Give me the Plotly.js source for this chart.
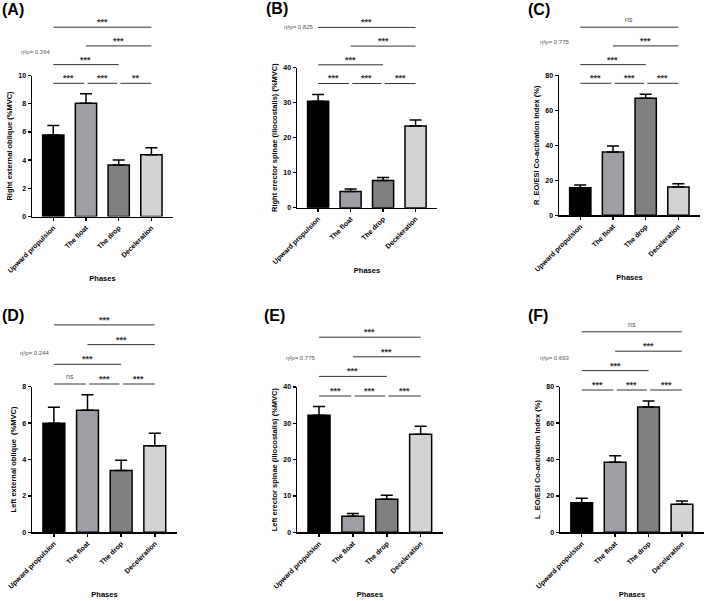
<!DOCTYPE html>
<html>
<head>
<meta charset="utf-8">
<script src="https://cdn.plot.ly/plotly-3.0.1.min.js"></script>
<style>
  html, body { margin: 0; padding: 0; background: #fff; }
  #chart { width: 708px; height: 601px; }
</style>
</head>
<body>
<div id="chart"></div>
<script>
// ---- data -------------------------------------------------------------
const phases = ['Upward propulsion', 'The float', 'The drop', 'Deceleration'];

const rightEOMean = [5.78, 8.03, 3.65, 4.38];
const rightEOSe   = [0.67, 0.67, 0.35, 0.50];
const rightESMean = [30.4, 4.63, 7.74, 23.3];
const rightESSe   = [1.9, 0.74, 0.85, 1.7];
const rightCoMean = [15.8, 36.2, 66.9, 16.2];
const rightCoSe   = [1.5, 3.4, 2.2, 1.9];
const leftEOMean  = [5.99, 6.70, 3.39, 4.76];
const leftEOSe    = [0.88, 0.86, 0.57, 0.68];
const leftESMean  = [32.2, 4.4, 9.1, 27.0];
const leftESSe    = [2.4, 0.8, 1.1, 2.2];
const leftCoMean  = [16.3, 38.5, 68.8, 15.4];
const leftCoSe    = [2.4, 3.6, 3.3, 1.8];

const etaSquared = [0.364, 0.825, 0.775, 0.244, 0.775, 0.693];

const tickEO  = [0, 2, 4, 6, 8, 10];
const tickEOL = [0, 2, 4, 6, 8];
const tickES  = [0, 10, 20, 30, 40];
const tickCo  = [0, 20, 40, 60, 80];

// pairwise comparisons: [phase a, phase b, label]
const sigRightEO = [[0, 1, '***'], [1, 2, '***'], [2, 3, '**'], [0, 2, '***'], [1, 3, '***'], [0, 3, '***']];
const sigRightES = [[0, 1, '***'], [1, 2, '***'], [2, 3, '***'], [0, 2, '***'], [1, 3, '***'], [0, 3, '***']];
const sigRightCo = [[0, 1, '***'], [1, 2, '***'], [2, 3, '***'], [0, 2, '***'], [1, 3, '***'], [0, 3, 'ns']];
const sigLeftEO  = [[0, 1, 'ns'], [1, 2, '***'], [2, 3, '***'], [0, 2, '***'], [1, 3, '***'], [0, 3, '***']];
const sigLeftES  = [[0, 1, '***'], [1, 2, '***'], [2, 3, '***'], [0, 2, '***'], [1, 3, '***'], [0, 3, '***']];
const sigLeftCo  = [[0, 1, '***'], [1, 2, '***'], [2, 3, '***'], [0, 2, '***'], [1, 3, '***'], [0, 3, 'ns']];

const panelLetters = ['(A)', '(B)', '(C)', '(D)', '(E)', '(F)'];
const yTitles = [
  'Right external oblique (%MVC)',
  'Right erector spinae (iliocostalis) (%MVC)',
  'R_EO/ESI Co-activation Index (%)',
  'Left external oblique  (%MVC)',
  'Left erector spinae (iliocostalis) (%MVC)',
  'L_EO/ESI Co-activation Index (%)'
];

// ---- styling & page geometry (pixels) ---------------------------------
const W = 708, H = 601;
const FONT = 'Liberation Sans, Arial, Helvetica, sans-serif';
const barColors = ['#000000', '#9e9ea4', '#808080', '#d3d3d3'];

const geom = [
  { x: [32, 173],  y: [75.5, 216.5], rowBase: 83.3, rowStep: 18.7, eta: [19, 52.3, 'left'],   label: [0, 10] },
  { x: [297, 437], y: [67.5, 207.7], rowBase: 83.5, rowStep: 18.7, eta: [316, 27.3, 'right'], label: [264, 9] },
  { x: [559, 700], y: [75.3, 215.3], rowBase: 83.3, rowStep: 18.7, eta: [538, 41.7, 'left'],  label: [526, 10] },
  { x: [32, 177],  y: [386.7, 532.3], rowBase: 384, rowStep: 19.7, eta: [18, 352.7, 'left'],  label: [0, 315] },
  { x: [297, 443], y: [387, 532.3],  rowBase: 396, rowStep: 19.6, eta: [284, 358.3, 'left'],  label: [262, 315] },
  { x: [560, 704], y: [386.7, 532.3], rowBase: 390, rowStep: 19.4, eta: [538, 358, 'left'],   label: [526, 315] }
];

const panels = [
  { mean: rightEOMean, se: rightEOSe, ticks: tickEO,  sig: sigRightEO },
  { mean: rightESMean, se: rightESSe, ticks: tickES,  sig: sigRightES },
  { mean: rightCoMean, se: rightCoSe, ticks: tickCo,  sig: sigRightCo },
  { mean: leftEOMean,  se: leftEOSe,  ticks: tickEOL, sig: sigLeftEO },
  { mean: leftESMean,  se: leftESSe,  ticks: tickES,  sig: sigLeftES },
  { mean: leftCoMean,  se: leftCoSe,  ticks: tickCo,  sig: sigLeftCo }
];

const fx = p => p / W;
const fy = p => 1 - p / H;

const traces = [];
const layout = {
  width: W, height: H,
  margin: { l: 0, r: 0, t: 0, b: 0 },
  paper_bgcolor: '#fff', plot_bgcolor: 'rgba(0,0,0,0)',
  showlegend: false,
  font: { family: FONT, color: '#000' },
  shapes: [],
  annotations: []
};

// which bracket row a comparison sits on (0 = lowest)
function bracketRow(a, b) {
  const span = b - a;
  if (span === 1) return 0;
  if (span === 2) return a === 0 ? 1 : 2;
  return 3;
}

panels.forEach((p, i) => {
  const n = i + 1;
  const xr = n === 1 ? 'x' : 'x' + n;
  const yr = n === 1 ? 'y' : 'y' + n;
  const g = geom[i];

  traces.push({
    type: 'bar',
    x: phases,
    y: p.mean,
    xaxis: xr, yaxis: yr,
    width: 0.65,
    marker: { color: barColors, line: { color: '#000', width: 1.5 } },
    error_y: {
      type: 'data', symmetric: false,
      array: p.se, arrayminus: p.se.map(() => 0),
      color: '#000', thickness: 1.5, width: 6
    },
    hoverinfo: 'skip'
  });

  layout[n === 1 ? 'xaxis' : 'xaxis' + n] = {
    domain: [fx(g.x[0]), fx(g.x[1])],
    anchor: yr,
    range: [-0.65, 3.66],
    showline: true, linecolor: '#000', linewidth: 1.5,
    ticks: 'outside', ticklen: 3, tickwidth: 1.5, tickcolor: '#000',
    tickangle: -45,
    tickfont: { family: FONT, size: 7, weight: 'bold', color: '#000' },
    showgrid: false, zeroline: false, fixedrange: true,
    title: { text: 'Phases', font: { family: FONT, size: 7.5, weight: 'bold', color: '#000' }, standoff: 2 }
  };

  const top = p.ticks[p.ticks.length - 1];
  layout[n === 1 ? 'yaxis' : 'yaxis' + n] = {
    domain: [fy(g.y[1]), fy(g.y[0])],
    anchor: xr,
    range: [0, top],
    tickvals: p.ticks,
    showline: true, linecolor: '#000', linewidth: 1.5,
    ticks: 'outside', ticklen: 3, tickwidth: 1.5, tickcolor: '#000',
    tickfont: { family: FONT, size: 7, weight: 'bold', color: '#000' },
    showgrid: false, zeroline: false, fixedrange: true,
    title: { text: yTitles[i], font: { family: FONT, size: 7.5, weight: 'bold', color: '#000' }, standoff: 4 }
  };

  // significance brackets
  p.sig.forEach(([a, b, lab]) => {
    const row = bracketRow(a, b);
    const yPix = g.rowBase - row * g.rowStep;
    const inset = (b - a === 1) ? 0.05 : 0;
    const x0 = a + (a > 0 ? inset : 0);
    const x1 = b - (b < 3 ? inset : 0);
    layout.shapes.push({
      type: 'line', xref: xr, yref: 'paper',
      x0: x0, x1: x1, y0: fy(yPix), y1: fy(yPix),
      line: { color: '#333', width: 1 }
    });
    const isNs = lab === 'ns';
    layout.annotations.push({
      xref: xr, yref: 'paper', x: (x0 + x1) / 2, y: fy(yPix),
      text: lab, showarrow: false, xanchor: 'center', yanchor: 'bottom',
      yshift: isNs ? 2 : -2,
      font: isNs ? { family: FONT, size: 7, color: '#555' }
                 : { family: FONT, size: 9, weight: 'bold', color: '#333' }
    });
  });

  // effect size note
  layout.annotations.push({
    xref: 'paper', yref: 'paper', x: fx(g.eta[0]), y: fy(g.eta[1]),
    xanchor: g.eta[2], yanchor: 'middle', showarrow: false,
    text: 'η²p= ' + etaSquared[i].toFixed(3),
    font: { family: FONT, size: 6, color: '#555' }
  });

  // panel letter
  layout.annotations.push({
    xref: 'paper', yref: 'paper', x: fx(g.label[0]), y: fy(g.label[1]),
    xanchor: 'left', yanchor: 'middle', showarrow: false,
    text: panelLetters[i],
    font: { family: FONT, size: 16, weight: 'bold', color: '#000' }
  });
});

Plotly.newPlot('chart', traces, layout, { staticPlot: true, displayModeBar: false });
</script>
</body>
</html>
